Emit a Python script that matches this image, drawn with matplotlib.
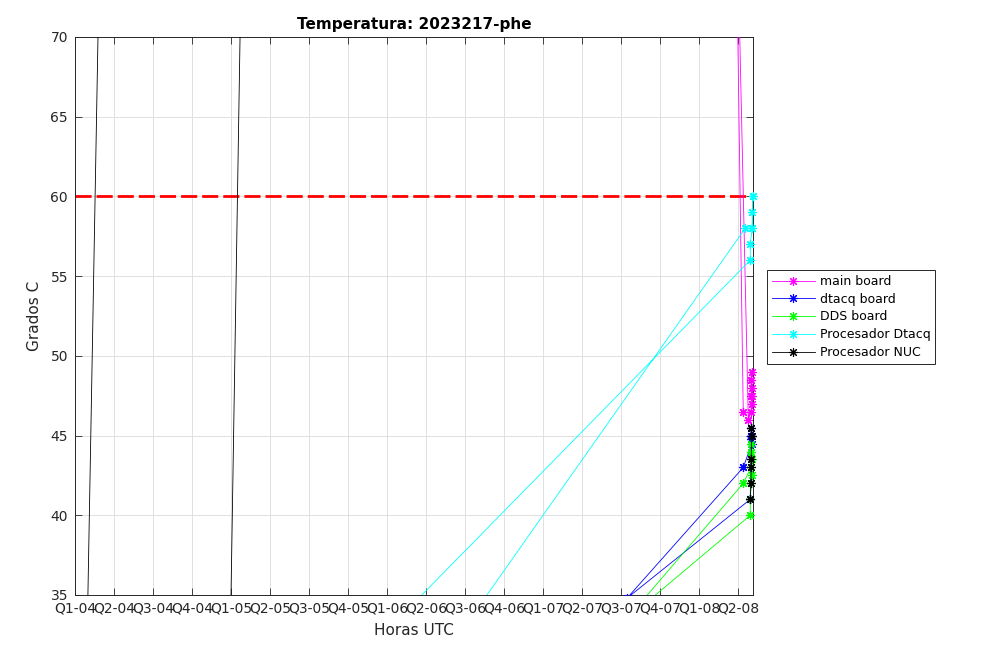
import numpy as np
import matplotlib
matplotlib.use("Agg")
import matplotlib.pyplot as plt

nan = np.nan

# ---- data (x in quarter-tick units, y in degrees C) ----
tick_labels = ["Q1-04", "Q2-04", "Q3-04", "Q4-04", "Q1-05", "Q2-05", "Q3-05", "Q4-05",
               "Q1-06", "Q2-06", "Q3-06", "Q4-06", "Q1-07", "Q2-07", "Q3-07", "Q4-07",
               "Q1-08", "Q2-08"]

main_x = [17.13, 16.90, 17.26, 17.33, 17.35, 17.33, 17.35, 17.33, 17.35, 17.33, 17.35]
main_y = [46.5, 85.4, 46.0, 46.5, 47.0, 47.5, 48.0, 48.5, 49.0, 48.5, 47.5]

dtacq_x = [17.33, 17.33, 17.35, 17.13, 14.15, 17.31, 17.33, 17.35, 17.33]
dtacq_y = [45.5, 45.0, 44.5, 43.0, 34.8, 41.0, 45.0, 45.0, 44.8]

dds_x = [17.33, 17.33, 17.35, 17.33, 17.13, 14.13, 17.31, 17.31, 17.33, 17.35, 17.33]
dds_y = [44.5, 44.0, 43.5, 43.0, 42.0, 33.46, 40.0, 41.0, 42.0, 42.5, 44.0]

dtacqproc_x = [17.38, 17.36, 17.36, 17.18, 7.68, 4.88, 17.31, 17.31, 17.36, 17.38]
dtacqproc_y = [60.0, 59.0, 58.0, 58.0, 25.0, 25.0, 56.0, 57.0, 58.0, 60.0]

nuc_x = [0.22, 0.70, nan, 3.90, 4.33, nan, 17.31, 17.33, 17.33, 17.33, 17.35, 17.33]
nuc_y = [20.0, 85.0, nan, 20.0, 85.0, nan, 41.0, 42.0, 43.0, 43.5, 45.0, 45.5]

limit_x = [0.0, 17.38]
limit_y = [60.0, 60.0]

series = [
    ("main board", main_x, main_y, (1, 0, 1)),
    ("dtacq board", dtacq_x, dtacq_y, (0, 0, 1)),
    ("DDS board", dds_x, dds_y, (0, 1, 0)),
    ("Procesador Dtacq", dtacqproc_x, dtacqproc_y, (0, 1, 1)),
    ("Procesador NUC", nuc_x, nuc_y, (0, 0, 0)),
]

XMIN, XMAX, YMIN, YMAX = 0, 17.38, 35, 70

plt.rcParams['font.family'] = ['DejaVu Sans']
fig = plt.figure(figsize=(10.08, 6.61), dpi=100)
ax = fig.add_axes([75 / 1008, 1 - 595 / 661, (753 - 75) / 1008, (595 - 37) / 661])

star = (8, 2, 0)
gray = (0.15, 0.15, 0.15)

red, = ax.plot(limit_x, limit_y, color=(1, 0, 0), lw=2.0, zorder=2)
red.set_dashes((5.8, 1.8))

handles = []
for name, xs, ys, col in series:
    h, = ax.plot(xs, ys, color=col, lw=0.6, marker=star, ms=6.5, mew=0.8,
                 label=name, zorder=3)
    handles.append(h)
    xa = np.asarray(xs, float)
    ya = np.asarray(ys, float)
    inside = (xa >= XMIN) & (xa <= XMAX) & (ya >= YMIN) & (ya <= YMAX)
    ax.plot(xa[inside], ya[inside], ls='none', color=col, marker=star, ms=6.5,
            mew=0.8, clip_on=False, zorder=3)

ax.set_xlim(XMIN, XMAX)
ax.set_ylim(YMIN, YMAX)
ax.set_xticks(np.arange(len(tick_labels)))
ax.set_xticklabels(tick_labels)
ax.set_yticks(np.arange(35, 71, 5))

ax.grid(True, color=(0.88, 0.88, 0.88), lw=0.7, zorder=0)
ax.set_axisbelow(True)
ax.tick_params(direction='in', length=5, width=0.6, colors=gray, labelsize=10,
               top=True, right=True, pad=5)
for sp in ax.spines.values():
    sp.set_color(gray)
    sp.set_linewidth(0.7)

ax.set_title("Temperatura: 2023217-phe", fontsize=11, fontweight='bold', pad=6)
ax.set_xlabel("Horas UTC", fontsize=11, color=gray, labelpad=5)
ax.set_ylabel("Grados C", fontsize=11, color=gray, labelpad=6)

leg = fig.legend(handles=handles, loc='upper left',
                 bbox_to_anchor=(767 / 1008, 1 - 270 / 661), borderaxespad=0,
                 fontsize=9, numpoints=1, handlelength=3.4, handletextpad=0.4,
                 labelspacing=0.38, borderpad=0.4, fancybox=False, framealpha=1,
                 edgecolor=gray)
leg.get_frame().set_linewidth(0.7)

fig.savefig("out.png", dpi=100)
